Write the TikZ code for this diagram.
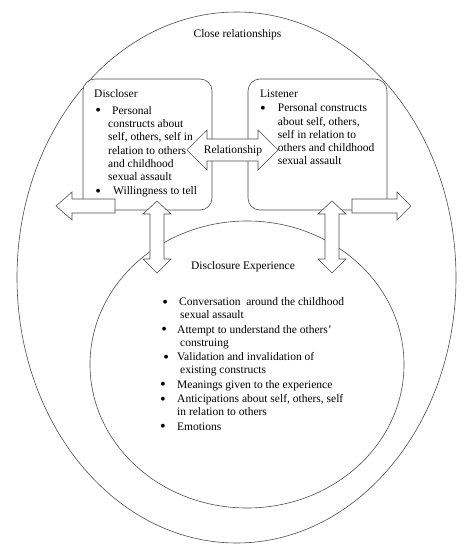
\documentclass[tikz,border=0pt]{standalone}
\usepackage{fontspec}
\setmainfont{Liberation Serif}
\usetikzlibrary{shapes.geometric}
\newcommand{\bul}[2]{\makebox[#2][l]{\hspace*{#1}\raisebox{-1.4pt}{\scalebox{1.4}{\textbullet}}}}

\begin{document}
\begin{tikzpicture}[x=1pt,y=-1pt,
  line/.style={draw=black!70,line width=0.6pt},
  ring/.style={line,ellipse,inner sep=0pt},
  box/.style={line,fill=white,rounded corners=12pt,inner sep=0pt},
  blockarrow/.style={line,fill=white,line join=miter},
  txt/.style={font=\fontsize{11.5}{13.3}\selectfont,inner sep=0pt,align=left}]
  \useasboundingbox (0,0) rectangle (475,546);
  \node[ring,minimum width=439pt,minimum height=531pt] (close) at (236.5,277.5) {};
  \node[ring,minimum width=314pt,minimum height=287pt] (experience) at (247,364.5) {};
  \node[box,minimum width=129pt,minimum height=131pt] (discloser) at (147.5,144.5) {};
  \node[box,minimum width=139pt,minimum height=131pt] (listener) at (317.5,144.5) {};

  \draw[blockarrow] (187,150)--(207,130)--(207,139)--(258,139)--(258,130)--(278,150)--(258,170)--(258,161)--(207,161)--(207,170)--cycle;
  \draw[blockarrow] (56,206)--(72,192)--(72,199)--(115,199)--(115,213)--(72,213)--(72,220)--cycle;
  \draw[blockarrow] (411,206)--(397,192)--(397,199)--(352,199)--(352,213)--(397,213)--(397,220)--cycle;
  \draw[blockarrow] (157,201)--(171,214)--(164,214)--(164,259)--(171,259)--(157,273)--(143,259)--(150,259)--(150,214)--(143,214)--cycle;
  \draw[blockarrow] (332,201)--(346,214)--(339,214)--(339,259)--(346,259)--(332,273)--(318,259)--(325,259)--(325,214)--(318,214)--cycle;

  \node[txt] (closelabel) at (237.5,35) {Close relationships};
  \node[txt] (relationship) at (233,151) {Relationship};
  \node[txt] (experiencelabel) at (243,267) {Disclosure Experience};
  \node[txt,anchor=north west] (disclosertext) at (94,89.5) {Discloser\\[3.4pt]
    \bul{1.2pt}{18pt}Personal\\
    \hspace*{14pt}constructs about\\
    \hspace*{14pt}self, others, self in\\
    \hspace*{14pt}relation to others\\
    \hspace*{14pt}and childhood\\
    \hspace*{14pt}sexual assault\\[0.7pt]
    \bul{1.2pt}{19pt}Willingness to tell};
  \node[txt,anchor=north west] (listenertext) at (260,89.5) {Listener\\[1.1pt]
    \bul{0pt}{17.7pt}Personal constructs\\
    \hspace*{17.7pt}about self, others,\\
    \hspace*{17.7pt}self in relation to\\
    \hspace*{17.7pt}others and childhood\\
    \hspace*{17.7pt}sexual assault};
  \node[txt,font=\fontsize{11.5}{13}\selectfont,anchor=north west] (experiencetext) at (160,297.6) {%
    \bul{2.2pt}{19pt}Conversation\ \ around the childhood\\
    \hspace*{20pt}sexual assault\\[1.5pt]
    \bul{1.2pt}{17pt}Attempt to understand the others'\\
    \hspace*{20pt}construing\\[1.5pt]
    \bul{3.2pt}{17pt}Validation and invalidation of\\
    \hspace*{20pt}existing constructs\\[1.5pt]
    \bul{0pt}{17pt}Meanings given to the experience\\[1.5pt]
    \bul{0pt}{17pt}Anticipations about self, others, self\\
    \hspace*{17pt}in relation to others\\[1.5pt]
    \bul{0pt}{17pt}Emotions};
\end{tikzpicture}
\end{document}
